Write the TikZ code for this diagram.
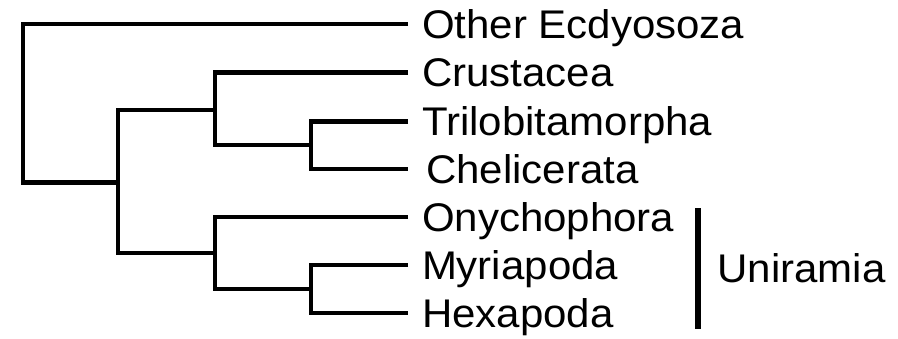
\documentclass[tikz,border=0pt]{standalone}
\usepackage{fontspec}
\setmainfont{Liberation Sans}
\usepackage{graphicx}
\newcommand{\lbltext}[1]{\scalebox{1.05}[1]{\fontsize{40}{48}\selectfont #1}}
\begin{document}
\begin{tikzpicture}[x=1pt,y=-1pt,
  branch/.style={line width=4.6pt, line join=miter},
  bracket/.style={line width=6pt},
  leaf/.style={anchor=base west, inner sep=0pt, outer sep=0pt, font=\fontsize{40}{48}\selectfont}]
\useasboundingbox (0,0) rectangle (898,338);
% leaf tips
\coordinate (tO)  at (408,24);
\coordinate (tC)  at (408,72.5);
\coordinate (tT)  at (408,121.5);
\coordinate (tCh) at (408,169);
\coordinate (tOn) at (408,217);
\coordinate (tM)  at (408,265);
\coordinate (tH)  at (408,313);
% internal nodes
\coordinate (A) at (23,182.5);
\coordinate (B) at (118,182.5);
\coordinate (C) at (215,110);
\coordinate (D) at (215,253);
\coordinate (E) at (311,145);
\coordinate (F) at (311,289);
% branches
\draw[branch] (tO) -- (tO -| A) -- (A) -- (B);
\draw[branch] (C) -- (C -| B) -- (D -| B) -- (D);
\draw[branch] (tC) -- (tC -| C) -- (E -| C) -- (E);
\draw[branch] (tT) -- (tT -| E) -- (tCh -| E) -- (tCh);
\draw[branch] (tOn) -- (tOn -| D) -- (F -| D) -- (F);
\draw[branch] (tM) -- (tM -| F) -- (tH -| F) -- (tH);
% labels
\node[leaf] (lO)  at (422,38.3)  {\lbltext{Other Ecdyosoza}};
\node[leaf] (lC)  at (422,86.8)  {\lbltext{Crustacea}};
\node[leaf] (lT)  at (422,135.8) {\lbltext{Trilobitamorpha}};
\node[leaf] (lCh) at (426,183.3) {\lbltext{Chelicerata}};
\node[leaf] (lOn) at (422,231.3) {\lbltext{Onychophora}};
\node[leaf] (lM)  at (422,279.3) {\lbltext{Myriapoda}};
\node[leaf] (lH)  at (422,327.3) {\lbltext{Hexapoda}};
% Uniramia bracket
\coordinate (ut) at (697.5,208);
\coordinate (ub) at (697.5,328.5);
\draw[bracket] (ut) -- (ub);
\node[leaf] (lU) at (717.5,282.8) {\lbltext{Uniramia}};
\end{tikzpicture}
\end{document}
